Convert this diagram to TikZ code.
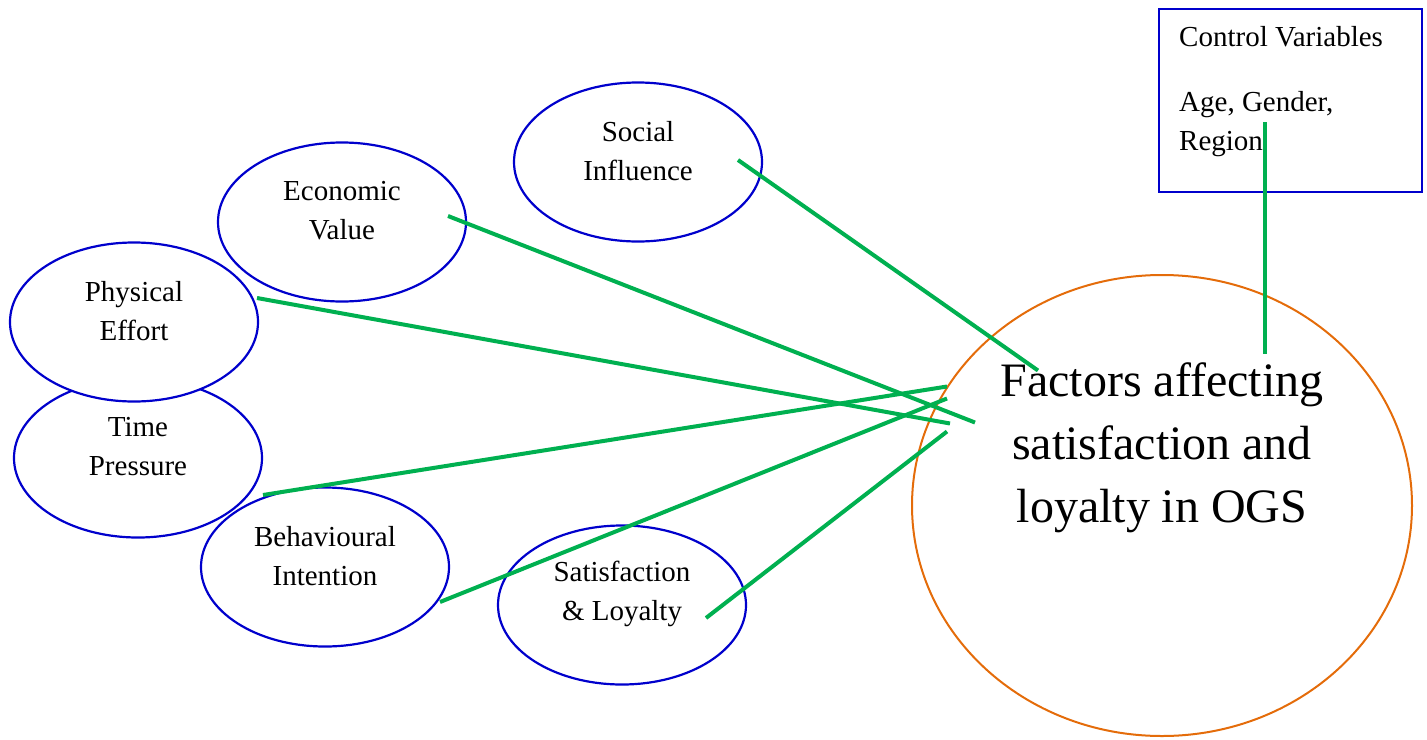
\documentclass[tikz,border=0pt]{standalone}
\usepackage{fontspec}
\setmainfont{Liberation Serif}
\usetikzlibrary{shapes.geometric}
\definecolor{ovalblue}{RGB}{0,0,204}
\definecolor{ogsorange}{RGB}{228,108,10}
\definecolor{linkgreen}{RGB}{0,176,80}
\begin{document}
\begin{tikzpicture}[x=1pt,y=-1pt,
  factor/.style={ellipse, draw=ovalblue, line width=2.2pt, minimum width=248pt, minimum height=159pt, inner sep=0pt},
  lbl/.style={font=\fontsize{29}{39}\selectfont, align=center, yshift=11pt, inner sep=0pt},
  biglbl/.style={font=\fontsize{48}{63}\selectfont, align=center, yshift=58pt, inner sep=0pt},
  link/.style={draw=linkgreen, line width=4pt}]
\useasboundingbox (0,0) rectangle (1427,739);

% factor ellipses
\node[factor, label={[lbl]center:Time\\Pressure}] (tp) at (138,458) {};
\node[factor, fill=white, label={[lbl]center:Physical\\Effort}] (pe) at (134,322) {};
\node[factor, label={[lbl]center:Economic\\Value}] (ev) at (342,222) {};
\node[factor, label={[lbl]center:Social\\Influence}] (si) at (638,162) {};
\node[factor, label={[lbl]center:Behavioural\\Intention}] (bi) at (325,567) {};
\node[factor, label={[lbl]center:Satisfaction\\\& Loyalty}] (sl) at (622,605) {};

% central construct
\node[ellipse, draw=ogsorange, line width=2pt, minimum width=500pt, minimum height=461pt, inner sep=0pt,
      label={[biglbl]center:Factors affecting\\satisfaction and\\loyalty in OGS}] (ogs) at (1162,505.5) {};

% control variables box
\node[draw=ovalblue, line width=2pt, minimum width=263pt, minimum height=183pt, inner sep=0pt] (ctrl) at (1290.5,100.5) {};
\node[font=\fontsize{29}{39}\selectfont, align=left, anchor=north west, inner sep=0pt] (ctrltxt) at (1179,26)
  {Control Variables\\[26pt]Age, Gender,\\Region};

% connectors
\draw[link] ([shift={(100,-2)}]si.center) -- ([shift={(-124,-135)}]ogs.center);
\draw[link] ([shift={(106,-6)}]ev.center) -- ([shift={(-187,-83)}]ogs.center);
\draw[link] ([shift={(123,-24)}]pe.center) -- ([shift={(-212,-82)}]ogs.center);
\draw[link] ([shift={(125,37)}]tp.center) -- ([shift={(-215,-119)}]ogs.center);
\draw[link] ([shift={(115,35)}]bi.center) -- ([shift={(-215,-107)}]ogs.center);
\draw[link] ([shift={(84,13)}]sl.center) -- ([shift={(-215,-74)}]ogs.center);
\draw[link] ([shift={(-25.5,21.5)}]ctrl.center) -- ([shift={(103,-152)}]ogs.center);
\end{tikzpicture}
\end{document}
